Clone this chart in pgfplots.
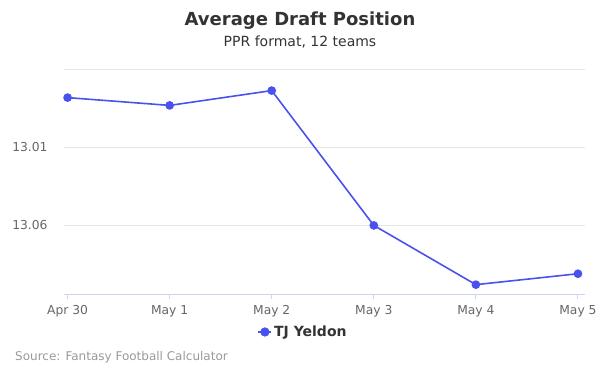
\documentclass[border=0pt]{standalone}
\usepackage{pgfplots}
\pgfplotsset{compat=1.18}
\usepackage{fontspec}
\setmainfont{DejaVu Sans}
\definecolor{linec}{HTML}{4A52EE}
\definecolor{gridc}{HTML}{E6E6E6}
\definecolor{axc}{HTML}{CCD6EB}
\definecolor{tickc}{HTML}{666666}
\definecolor{titc}{HTML}{333333}
\definecolor{srcc}{HTML}{999999}
\begin{document}
\begin{tikzpicture}[x=1pt,y=1pt]
\path[use as bounding box] (0,0) rectangle (600,375);
\begin{axis}[
  at={(64pt,81pt)}, anchor=south west,
  scale only axis, width=521pt, height=226pt,
  xmin=-0.035, xmax=5.069,
  y dir=reverse, ymin=12.959, ymax=13.104,
  xtick={0,1,2,3,4,5},
  xticklabels={Apr 30,May 1,May 2,May 3,May 4,May 5},
  ytick={12.96,13.01,13.06},
  yticklabels={,13.01,13.06},
  axis x line*=bottom,
  axis y line*=left,
  x axis line style={draw=axc, line width=1pt},
  y axis line style={draw=none},
  ymajorgrids, grid style={gridc, line width=0.8pt},
  major tick length=5pt,
  xtick style={draw=axc, line width=1pt},
  ytick style={draw=none},
  tick align=outside,
  xticklabel style={font=\fontsize{12.3}{14}\selectfont, text=tickc, yshift=-3pt},
  yticklabel style={font=\fontsize{12.3}{14}\selectfont, text=tickc, xshift=-8pt},
  /pgf/number format/assume math mode=true,
  clip=false,
  legend style={at={(0.459,-0.168)}, anchor=center, draw=none, fill=none,
    font=\bfseries\fontsize{14}{16}\selectfont, text=titc},
  legend image code/.code={
    \draw[linec, line width=1.5pt] (-1pt,0pt) -- (12pt,0pt);
    \fill[linec] (5.5pt,0pt) circle (3.8pt);
  },
]
\addplot[linec, line width=1.6pt, mark=*, mark size=3.5pt, mark options={fill=linec, draw=linec}]
  coordinates {(0,12.978) (1,12.983) (2,12.9735) (3,13.06) (4,13.098) (5,13.091)};
\addlegendentry{TJ Yeldon}
\end{axis}
\node[text=titc, font=\bfseries\fontsize{18}{21}\selectfont] at (300,354.5) {Average Draft Position};
\node[text=titc, font=\fontsize{14}{16}\selectfont] at (300,333) {PPR format, 12 teams};
\node[text=srcc, font=\fontsize{12}{14}\selectfont, anchor=west, inner sep=0pt] at (15,18) {Source: Fantasy Football Calculator};
\end{tikzpicture}
\end{document}
